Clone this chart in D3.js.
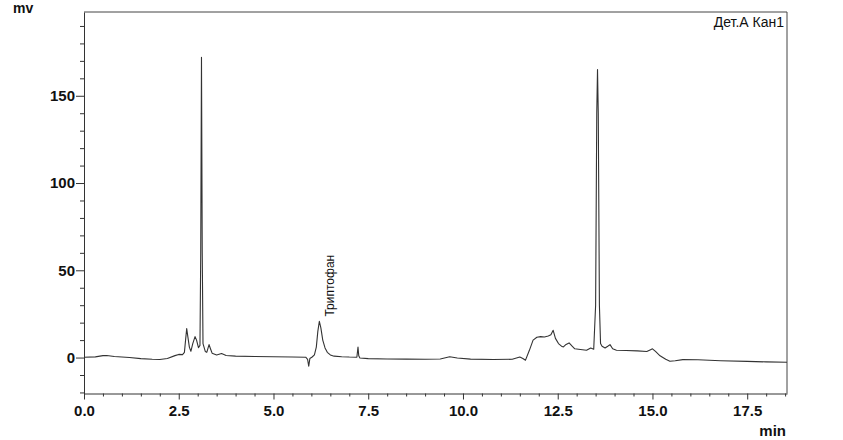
<!DOCTYPE html>
<html>

<head>
  <meta charset="utf-8" />
  <title>Хроматограмма</title>
  <style>
    body {
      margin: 0;
      background: white;
    }

    svg text {
      font-family: "Liberation Sans", Arial, sans-serif;
      fill: #111;
    }

    .trace {
      fill: none;
      stroke: #333;
      stroke-width: 1.1px;
      stroke-linejoin: round;
    }
  </style>
</head>

<body>
  <svg></svg>

  <script src="https://d3js.org/d3.v7.min.js"></script>
  <script>
    var width = 843,
      height = 440;

    // retention time, min
    var times = [0.00, 0.30, 0.50, 0.60, 0.80, 1.20, 1.50, 1.80, 2.00, 2.20, 2.40, 2.50, 2.60, 2.65, 2.68,
      2.71, 2.74, 2.78, 2.82, 2.87, 2.93, 2.97, 3.02, 3.06, 3.08, 3.10, 3.12, 3.14, 3.20, 3.24, 3.28, 3.30,
      3.33, 3.38, 3.50, 3.63, 3.75, 4.00, 4.50, 5.00, 5.50, 5.85, 5.90, 5.93, 5.96, 6.02, 6.08, 6.13, 6.17,
      6.21, 6.25, 6.30, 6.36, 6.42, 6.50, 6.60, 6.80, 7.00, 7.20, 7.23, 7.25, 7.28, 7.50, 8.00, 8.50, 9.00,
      9.40, 9.65, 9.85, 10.2, 10.8, 11.3, 11.50, 11.58, 11.65, 11.75, 11.85, 11.95, 12.05, 12.15, 12.25,
      12.32, 12.38, 12.44, 12.52, 12.60, 12.65, 12.72, 12.80, 12.88, 12.95, 13.10, 13.26, 13.37, 13.45,
      13.50, 13.53, 13.55, 13.57, 13.60, 13.63, 13.67, 13.75, 13.82, 13.88, 13.95, 14.05, 14.30, 14.60,
      14.85, 14.95, 15.00, 15.08, 15.20, 15.35, 15.46, 15.60, 15.80, 16.20, 16.80, 17.50, 18.00, 18.55];
    // detector signal, mV
    var signal = [0.2, 0.4, 1.1, 1.2, 0.6, 0.0, -0.6, -1.0, -1.1, -0.5, 1.1, 1.8, 1.7, 3, 10,
      16.6, 12, 6, 3.6, 8, 12, 10, 5.7, 7, 60, 172, 60, 8, 3.5, 3, 6, 7.4,
      5.5, 2.5, 1.5, 2.3, 1.2, 0.8, 0.6, 0.5, 0.3, 0.2, -1, -5, -0.5, 0.3, 1.5, 6, 15,
      20.8, 17, 10, 5.5, 3, 1.5, 0.8, 0.5, 0.3, 0.2, 6, 1, -0.3, -0.6, -0.8, -0.9, -1,
      -0.8, 0.5, -0.3, -0.9, -1.1, -1.0, 0.3, -0.5, -1.5, 4, 10, 11.6, 12, 11.8, 12.4,
      13, 15.6, 11, 8, 6.5, 6.1, 7.5, 8.4, 6.5, 5, 4.6, 4.2, 5.5, 4.8,
      30, 140, 165, 140, 30, 8, 6.5, 5.5, 6.5, 7.4, 5, 4.2, 4.0, 3.8,
      3.5, 4.5, 5, 3.5, 1, -1, -2.1, -1.8, -1.2, -1.3, -1.8, -2.2, -2.5, -2.7];

    var xDomain = [0, 18.55],
      yDomain = [-20.6, 198];
    var xMajor = [0, 2.5, 5, 7.5, 10, 12.5, 15, 17.5];
    var yMajor = [0, 50, 100, 150];
    var peakName = "Триптофан",
      peakTime = 6.21;
    var channelLabel = "Дет.А Кан1";

    // plot box (note: "top" is taken by window.top, so use a margin object)
    var box = { left: 84, right: 787, top: 12, bottom: 393.5 };

    var svg = d3.select("svg")
      .attr("width", width)
      .attr("height", height);

    var x = d3.scaleLinear().domain(xDomain).range([box.left, box.right]);
    var y = d3.scaleLinear().domain(yDomain).range([box.bottom, box.top]);

    // minor ticks: every 0.5 min and every 10 mV
    var xMinor = d3.range(0, 18.55, 0.5).filter(t => xMajor.indexOf(t) < 0);
    var yMinor = d3.range(-20, 198, 10).filter(v => yMajor.indexOf(v) < 0);

    svg.append("g")
      .attr("transform", "translate(0," + box.bottom + ")")
      .call(d3.axisBottom(x).tickValues(xMajor).tickFormat(d3.format(".1f")).tickSize(6).tickPadding(6).tickSizeOuter(0));
    svg.append("g")
      .attr("transform", "translate(0," + box.bottom + ")")
      .call(d3.axisBottom(x).tickValues(xMinor).tickFormat("").tickSize(3).tickSizeOuter(0))
      .select(".domain").remove();

    svg.append("g")
      .attr("transform", "translate(" + box.left + ",0)")
      .call(d3.axisLeft(y).tickValues(yMajor).tickSize(8).tickPadding(1).tickSizeOuter(0));
    svg.append("g")
      .attr("transform", "translate(" + box.left + ",0)")
      .call(d3.axisLeft(y).tickValues(yMinor).tickFormat("").tickSize(4).tickSizeOuter(0))
      .select(".domain").remove();

    svg.selectAll(".tick line, .domain").attr("stroke", "#333");
    svg.selectAll(".tick text")
      .attr("font-size", 15)
      .attr("font-family", "'Liberation Sans', Arial, sans-serif")
      .attr("font-weight", "bold")
      .attr("fill", "#1a1a1a");

    // top and right border
    svg.append("path")
      .attr("d", "M" + box.left + "," + box.top + "H" + box.right + "V" + box.bottom)
      .attr("fill", "none")
      .attr("stroke", "#444");

    var points = times.map((t, i) => [t, signal[i]]);
    svg.append("path")
      .attr("class", "trace")
      .attr("d", d3.line().x(d => x(d[0])).y(d => y(d[1]))(points));

    // peak label, vertical
    svg.append("text")
      .attr("transform", "translate(" + (x(peakTime) + 14.5) + "," + (y(23.5)) + ") rotate(-90)")
      .attr("font-size", 12)
      .text(peakName);

    svg.append("text")
      .attr("x", box.right - 3)
      .attr("y", box.top + 15)
      .attr("text-anchor", "end")
      .attr("font-size", 14)
      .text(channelLabel);

    svg.append("text")
      .attr("x", 13)
      .attr("y", 13)
      .attr("font-size", 14)
      .attr("font-weight", "bold")
      .text("mv");

    svg.append("text")
      .attr("x", box.right - 1)
      .attr("y", 436)
      .attr("text-anchor", "end")
      .attr("font-size", 15)
      .attr("font-weight", "bold")
      .text("min");
  </script>
</body>

</html>
